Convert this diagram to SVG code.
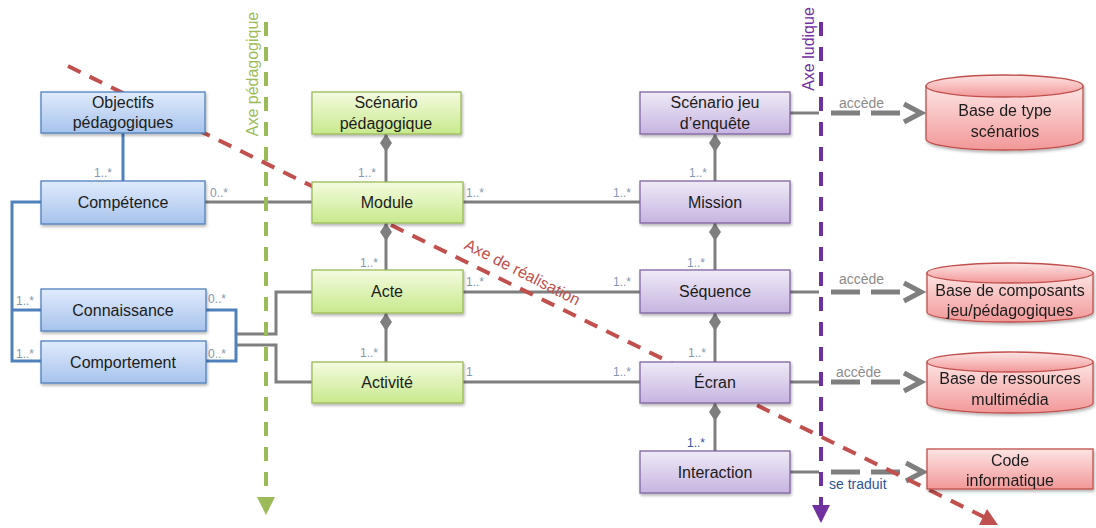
<svg xmlns="http://www.w3.org/2000/svg" width="1096" height="528" viewBox="0 0 1096 528">
<defs>
<linearGradient id="gBlue" x1="0" y1="0" x2="0" y2="1"><stop offset="0" stop-color="#e0ebfc"/><stop offset="1" stop-color="#a7c3ec"/></linearGradient>
<linearGradient id="gGreen" x1="0" y1="0" x2="0" y2="1"><stop offset="0" stop-color="#f4fbe0"/><stop offset="1" stop-color="#c8e98c"/></linearGradient>
<linearGradient id="gPurple" x1="0" y1="0" x2="0" y2="1"><stop offset="0" stop-color="#efeaf7"/><stop offset="1" stop-color="#c6b4e0"/></linearGradient>
<linearGradient id="gRed" x1="0" y1="0" x2="0" y2="1"><stop offset="0" stop-color="#fde4e4"/><stop offset="1" stop-color="#f29898"/></linearGradient>
<filter id="sh" x="-10%" y="-20%" width="120%" height="150%"><feDropShadow dx="1" dy="2" stdDeviation="1.5" flood-color="#000" flood-opacity="0.3"/></filter>
</defs>
<style>
text{font-family:"Liberation Sans",Arial,sans-serif}
.t{font-size:16px;fill:#1c1c1c;text-anchor:middle}
.m{font-size:12px;fill:#8497b0}
.mb{font-size:12px;fill:#2f5597}
.acc{font-size:14px;fill:#8c8c8c}
.blue{fill:url(#gBlue);stroke:#4f81bd;stroke-width:1.3;filter:url(#sh)}
.green{fill:url(#gGreen);stroke:#9bbb59;stroke-width:1.3;filter:url(#sh)}
.purple{fill:url(#gPurple);stroke:#8064a2;stroke-width:1.3;filter:url(#sh)}
.red{fill:url(#gRed);stroke:#c0504d;stroke-width:1.3}
.redf{filter:url(#sh)}
.gl{fill:none;stroke:#7f7f7f;stroke-width:3}
.bl{fill:none;stroke:#4f81bd;stroke-width:3}
.dia{fill:#7f7f7f}
.dash{fill:none;stroke:#7f7f7f;stroke-width:5;stroke-dasharray:29 11}
.chev{fill:none;stroke:#7f7f7f;stroke-width:5;stroke-linejoin:miter}
</style>
<rect width="1096" height="528" fill="#fff"/>

<g id="connectors">
<polyline class="bl" points="41,202 12,202 12,361 41,361"/>
<line class="bl" x1="12" y1="310" x2="41" y2="310"/>
<line class="bl" x1="123" y1="133" x2="123" y2="181"/>
<polyline class="bl" points="206,310 236,310 236,361 206,361"/>
<polyline class="gl" points="237,334 276,334 276,292 312,292"/>
<polyline class="gl" points="237,345 276,345 276,382 312,382"/>
<line class="gl" x1="205" y1="202" x2="312" y2="202"/>
<line class="gl" x1="463" y1="202" x2="640" y2="202"/>
<line class="gl" x1="463" y1="292" x2="640" y2="292"/>
<line class="gl" x1="463" y1="382" x2="640" y2="382"/>
<line class="gl" x1="386" y1="134" x2="386" y2="182"/>
<polygon class="dia" points="386,134 392,143 386,152 380,143"/>
<line class="gl" x1="386" y1="223" x2="386" y2="270"/>
<polygon class="dia" points="386,223 392,232 386,241 380,232"/>
<line class="gl" x1="386" y1="313" x2="386" y2="362"/>
<polygon class="dia" points="386,313 392,322 386,331 380,322"/>
<line class="gl" x1="715" y1="134" x2="715" y2="181"/>
<polygon class="dia" points="715,134 721,143 715,152 709,143"/>
<line class="gl" x1="715" y1="223" x2="715" y2="270"/>
<polygon class="dia" points="715,223 721,232 715,241 709,232"/>
<line class="gl" x1="715" y1="313" x2="715" y2="362"/>
<polygon class="dia" points="715,313 721,322 715,331 709,322"/>
<line class="gl" x1="715" y1="403" x2="715" y2="451"/>
<polygon class="dia" points="715,403 721,412 715,421 709,412"/>
<line class="gl" x1="790" y1="113" x2="819" y2="113"/>
<line class="dash" x1="831" y1="113" x2="903" y2="113"/>
<polyline class="chev" points="904,104 921,113 904,122"/>
<line class="gl" x1="790" y1="292" x2="819" y2="292"/>
<line class="dash" x1="831" y1="292" x2="903" y2="292"/>
<polyline class="chev" points="904,283 921,292 904,301"/>
<line class="gl" x1="790" y1="382" x2="819" y2="382"/>
<line class="dash" x1="831" y1="382" x2="903" y2="382"/>
<polyline class="chev" points="904,373 921,382 904,391"/>
<line class="gl" x1="790" y1="472" x2="819" y2="472"/>
<line class="dash" x1="831" y1="472" x2="905" y2="472"/>
<polyline class="chev" points="906,463 923,472 906,481"/>
<text class="m" x="94" y="177">1..*</text>
<text class="m" x="210" y="197">0..*</text>
<text class="m" x="466" y="197">1..*</text>
<text class="m" x="613" y="197">1..*</text>
<text class="m" x="466" y="286">1..*</text>
<text class="m" x="613" y="286">1..*</text>
<text class="m" x="466" y="376">1</text>
<text class="m" x="613" y="376">1..*</text>
<text class="m" x="358" y="177">1..*</text>
<text class="m" x="360" y="267">1..*</text>
<text class="m" x="360" y="357">1..*</text>
<text class="m" x="689" y="177">1..*</text>
<text class="m" x="687" y="267">1..*</text>
<text class="m" x="688" y="357">1..*</text>
<text class="mb" x="687" y="447">1..*</text>
<text class="m" x="16" y="305">1..*</text>
<text class="m" x="208" y="303">0..*</text>
<text class="m" x="16" y="358">1..*</text>
<text class="m" x="208" y="358">0..*</text>
<text class="acc" x="839" y="108">accède</text>
<text class="acc" x="839" y="284">accède</text>
<text class="acc" x="836" y="377">accède</text>
<text x="829" y="489" style="font-size:14px;fill:#2f5597">se traduit</text>
</g>

<g id="axes">
<line x1="266" y1="22" x2="266" y2="498" stroke="#9bbb59" stroke-width="4" stroke-dasharray="14 11"/>
<polygon points="257,497 275,497 266,515" fill="#9bbb59"/>
<text x="258" y="74" transform="rotate(-90 258 74)" style="font-size:16px;fill:#9bbb59;text-anchor:middle">Axe pédagogique</text>
<line x1="821" y1="22" x2="821" y2="506" stroke="#7030a0" stroke-width="4" stroke-dasharray="14 11"/>
<polygon points="812,505 830,505 821,523" fill="#7030a0"/>
<text x="814" y="49" transform="rotate(-90 814 49)" style="font-size:16px;fill:#7030a0;text-anchor:middle">Axe ludique</text>
<line x1="68" y1="66" x2="984" y2="517" stroke="#c0504d" stroke-width="4" stroke-dasharray="14 10"/>
<polygon points="998,525 979,525 987,509" fill="#c0504d"/>
<text x="520" y="277" transform="rotate(27 520 277)" style="font-size:16px;fill:#c0504d;text-anchor:middle">Axe de réalisation</text>
</g>

<g id="n-objectifs"><rect class="blue" x="41" y="92" width="164" height="41"/><text class="t" x="123" y="108">Objectifs</text><text class="t" x="123" y="128">pédagogiques</text></g>
<g id="n-competence"><rect class="blue" x="41" y="181" width="164" height="43"/><text class="t" x="123" y="208">Compétence</text></g>
<g id="n-connaissance"><rect class="blue" x="41" y="289" width="165" height="42"/><text class="t" x="123" y="316">Connaissance</text></g>
<g id="n-comportement"><rect class="blue" x="41" y="341" width="165" height="42"/><text class="t" x="123" y="368">Comportement</text></g>

<g id="n-scenario-peda"><rect class="green" x="312" y="92" width="149" height="42"/><text class="t" x="386" y="108">Scénario</text><text class="t" x="386" y="129">pédagogique</text></g>
<g id="n-module"><rect class="green" x="312" y="182" width="151" height="41"/><text class="t" x="387" y="208">Module</text></g>
<g id="n-acte"><rect class="green" x="312" y="270" width="151" height="43"/><text class="t" x="387" y="297">Acte</text></g>
<g id="n-activite"><rect class="green" x="312" y="362" width="151" height="41"/><text class="t" x="387" y="388">Activité</text></g>

<g id="n-scenario-jeu"><rect class="purple" x="640" y="92" width="150" height="42"/><text class="t" x="715" y="108">Scénario jeu</text><text class="t" x="715" y="129">d’enquête</text></g>
<g id="n-mission"><rect class="purple" x="640" y="181" width="150" height="42"/><text class="t" x="715" y="208">Mission</text></g>
<g id="n-sequence"><rect class="purple" x="640" y="270" width="150" height="43"/><text class="t" x="715" y="297">Séquence</text></g>
<g id="n-ecran"><rect class="purple" x="640" y="362" width="150" height="41"/><text class="t" x="715" y="388">Écran</text></g>
<g id="n-interaction"><rect class="purple" x="640" y="451" width="150" height="42"/><text class="t" x="715" y="478">Interaction</text></g>

<g id="n-base-scenarios" class="redf"><path class="red" d="M926,86 L926,139 A78.5,11 0 0 0 1083,139 L1083,86 Z"/><ellipse class="red" cx="1004.5" cy="86" rx="78.5" ry="11"/><text class="t" x="1005" y="116">Base de type</text><text class="t" x="1005" y="137">scénarios</text></g>
<g id="n-base-composants" class="redf"><path class="red" d="M927,273 L927,312 A83,10 0 0 0 1093,312 L1093,273 Z"/><ellipse class="red" cx="1010" cy="273" rx="83" ry="10"/><text class="t" x="1010" y="296">Base de composants</text><text class="t" x="1010" y="316">jeu/pédagogiques</text></g>
<g id="n-base-ressources" class="redf"><path class="red" d="M927,362 L927,403 A83,10 0 0 0 1093,403 L1093,362 Z"/><ellipse class="red" cx="1010" cy="362" rx="83" ry="10"/><text class="t" x="1010" y="384">Base de ressources</text><text class="t" x="1010" y="405">multimédia</text></g>
<g id="n-code" class="redf"><rect class="red" x="927" y="449" width="166" height="40"/><text class="t" x="1010" y="466">Code</text><text class="t" x="1010" y="486">informatique</text></g>
</svg>
